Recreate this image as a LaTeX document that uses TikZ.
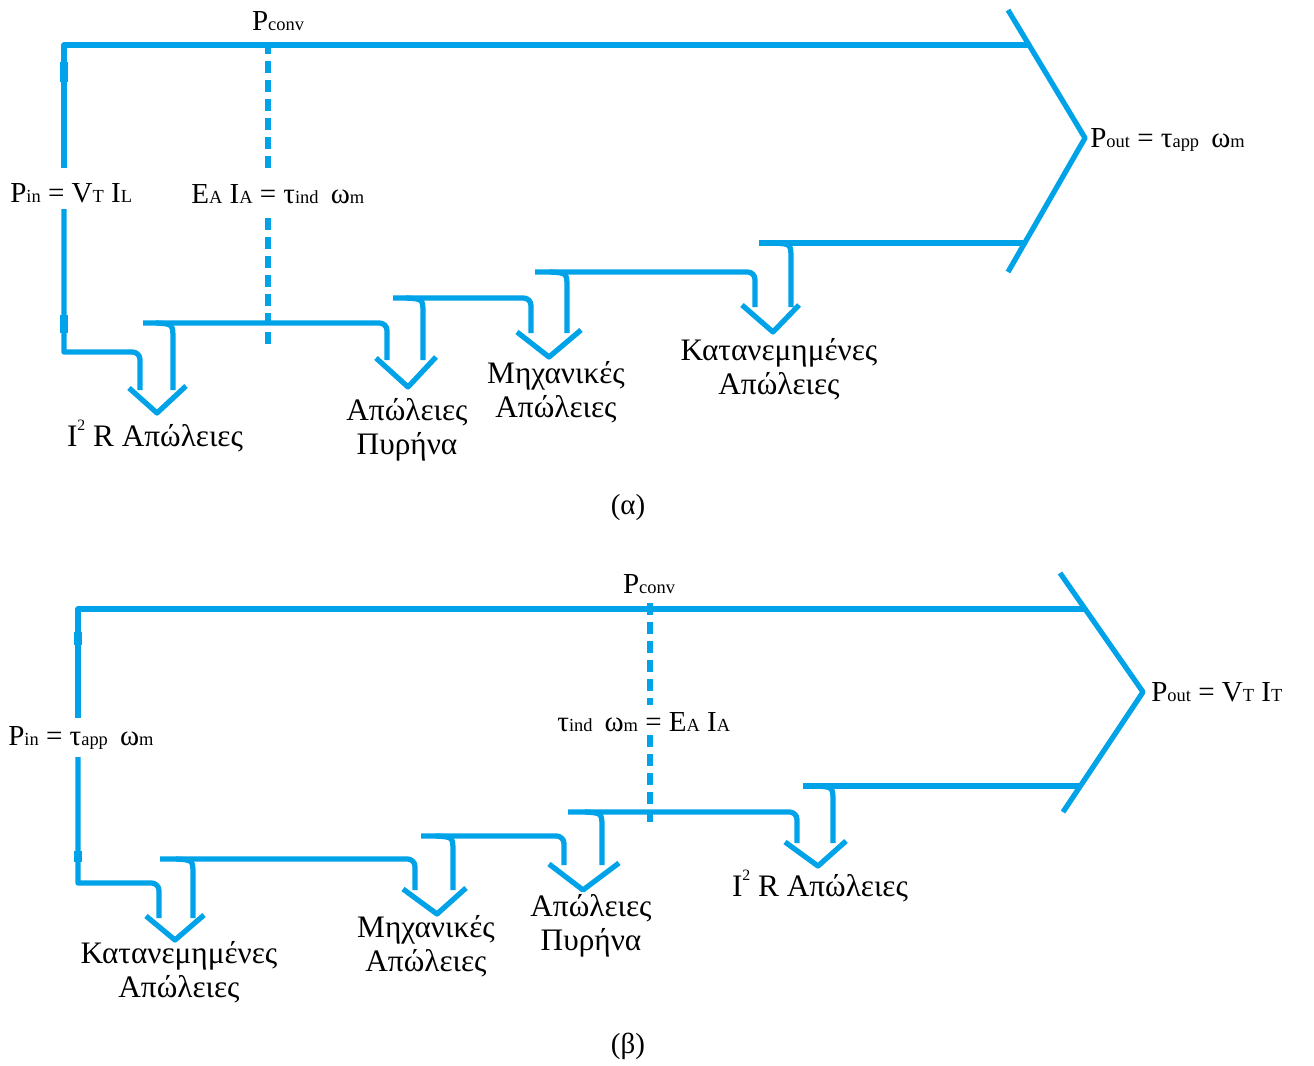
\documentclass[tikz,border=0pt]{standalone}
\usepackage{fontspec}
\setmainfont{Liberation Serif}
\definecolor{flowblue}{RGB}{0,162,232}
\newcommand{\lo}[1]{{\fontsize{10.5}{10}\selectfont #1}}
\newcommand{\sq}{\raisebox{1.1ex}{\fontsize{9}{9}\selectfont 2}}

\begin{document}
\begin{tikzpicture}[x=0.02cm,y=-0.02cm,
    flow/.style={draw=flowblue,line width=0.105cm,line join=round},
    conv/.style={draw=flowblue,line width=0.105cm,dash pattern=on 0.24cm off 0.14cm},
    blob/.style={draw=flowblue,line width=0.17cm},
    lbl/.style={font=\fontsize{16.5}{18.5}\selectfont,inner sep=0,align=center},
    loss/.style={font=\fontsize{17.8}{19.5}\selectfont,inner sep=0,align=center}]
  \useasboundingbox (0,0) rectangle (1314,1065);

  % (a) motor
  \draw[flow] (1029,45) -- (64,45) -- (64,168);
  \draw[flow] (64,209) -- (64,352) [rounded corners=0.15cm] -- (140,352) -- (140,390);
  \draw[blob] (64,62) -- (64,82) (64,315) -- (64,333);
  \draw[flow] (173,390) -- (173,340) .. controls (173,324) .. (156,323);
  \draw[flow] (129,388) -- (157,413) -- (186,386);
  \draw[flow] (143,323) [rounded corners=0.15cm] -- (387,323) -- (387,360);
  \draw[flow] (423,360) -- (423,314) .. controls (423,299) .. (406,298);
  \draw[flow] (376,358) -- (408,387) -- (436,357);
  \draw[flow] (393,298) [rounded corners=0.15cm] -- (531,298) -- (531,333);
  \draw[flow] (567,333) -- (567,288) .. controls (567,273) .. (550,272);
  \draw[flow] (517,332) -- (549,357) -- (581,330);
  \draw[flow] (535,272) [rounded corners=0.15cm] -- (755,272) -- (755,307);
  \draw[flow] (791,307) -- (791,259) .. controls (791,244) .. (774,243);
  \draw[flow] (742,305) -- (773,332) -- (799,305);
  \draw[flow] (759,243) -- (1025,243);
  \coordinate (tipA) at (1085,138);
  \draw[flow] (1008,10) -- (tipA) -- (1008,272);
  \draw[conv] (268,42) -- (268,168) (268,218) -- (268,350);

  \node[lbl] (pconvA) at (278,21) {P\lo{conv}};
  \node[lbl,anchor=west] (pinA) at (10,193) {P\lo{in} = V\lo{T} I\lo{L}};
  \node[lbl,anchor=west] (eaA) at (191,194) {E\lo{A} I\lo{A} = τ\lo{ind} \,ω\lo{m}};
  \node[lbl,anchor=west] (poutA) at (1090,140) {P\lo{out} = τ\lo{app} \,ω\lo{m}};
  \node[loss] (cuA) at (155,436) {I\sq\ R Απώλειες};
  \node[loss] (coreA) at (407,430) {Απώλειες\\Πυρήνα};
  \node[loss] (mechA) at (556,392) {Μηχανικές\\Απώλειες};
  \node[loss] (strayA) at (779,369) {Κατανεμημένες\\Απώλειες};
  \node[lbl] (capA) at (628,508) {(α)};

  % (b) generator
  \draw[flow] (1085,609) -- (78,609) -- (78,718);
  \draw[flow] (78,757) -- (78,883) [rounded corners=0.15cm] -- (159,883) -- (159,918);
  \draw[blob] (78,632) -- (78,645) (78,851) -- (78,862);
  \draw[flow] (193,918) -- (193,875) .. controls (193,860) .. (176,859);
  \draw[flow] (146,916) -- (175,940) -- (204,915);
  \draw[flow] (160,859) [rounded corners=0.15cm] -- (415,859) -- (415,890);
  \draw[flow] (453,890) -- (453,852) .. controls (453,837) .. (436,836);
  \draw[flow] (403,889) -- (437,914) -- (466,888);
  \draw[flow] (421,836) [rounded corners=0.15cm] -- (564,836) -- (564,865);
  \draw[flow] (602,865) -- (602,828) .. controls (602,813) .. (585,812);
  \draw[flow] (549,864) -- (583,890) -- (619,863);
  \draw[flow] (568,812) [rounded corners=0.15cm] -- (797,812) -- (797,843);
  \draw[flow] (833,843) -- (833,802) .. controls (833,787) .. (816,786);
  \draw[flow] (785,842) -- (818,866) -- (846,841);
  \draw[flow] (803,786) -- (1080,786);
  \coordinate (tipB) at (1143,692);
  \draw[flow] (1060,573) -- (tipB) -- (1063,812);
  \draw[conv] (650,603) -- (650,705) (650,735) -- (650,822);

  \node[lbl] (pconvB) at (649,584) {P\lo{conv}};
  \node[lbl,anchor=west] (pinB) at (8,738) {P\lo{in} = τ\lo{app} \,ω\lo{m}};
  \node[lbl,anchor=west] (eaB) at (557,722) {τ\lo{ind} \,ω\lo{m} = E\lo{A} I\lo{A}};
  \node[lbl,anchor=west] (poutB) at (1151,692) {P\lo{out} = V\lo{T} I\lo{T}};
  \node[loss] (strayB) at (179,972) {Κατανεμημένες\\Απώλειες};
  \node[loss] (mechB) at (426,946) {Μηχανικές\\Απώλειες};
  \node[loss] (coreB) at (591,926) {Απώλειες\\Πυρήνα};
  \node[loss] (cuB) at (820,886) {I\sq\ R Απώλειες};
  \node[lbl] (capB) at (628,1046) {(β)};
\end{tikzpicture}
\end{document}
